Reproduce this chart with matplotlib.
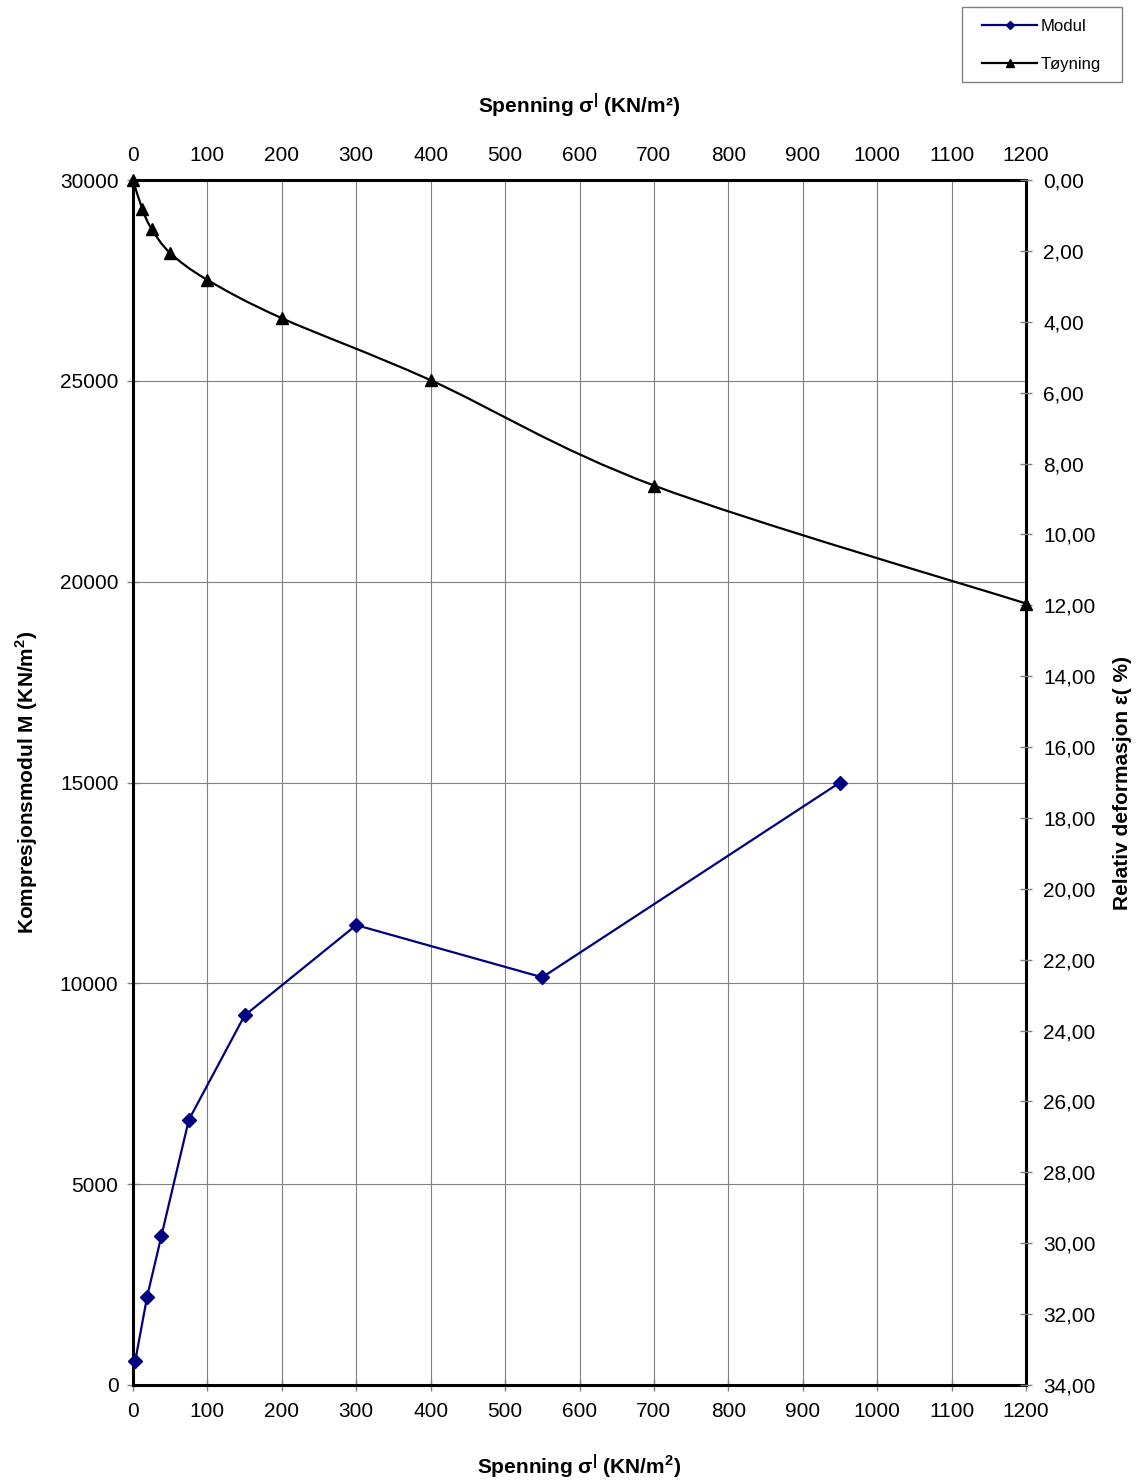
import matplotlib
matplotlib.use('Agg')
import matplotlib.pyplot as plt
from matplotlib.path import Path
from matplotlib.patches import PathPatch, Rectangle
from matplotlib.lines import Line2D
from matplotlib.ticker import FuncFormatter, MultipleLocator

plt.rcParams['font.family'] = ['Liberation Sans', 'DejaVu Sans']
plt.rcParams['mathtext.fontset'] = 'custom'
plt.rcParams['mathtext.rm'] = 'Liberation Sans'
plt.rcParams['mathtext.bf'] = 'Liberation Sans:bold'

# Modul: spenning (KN/m2) mot kompresjonsmodul M (KN/m2)
modul_spenning = [3, 19, 38, 75, 150, 300, 550, 950]
modul_M = [600, 2200, 3700, 6600, 9200, 11450, 10150, 15000]

# Tøyning: spenning (KN/m2) mot relativ deformasjon (%)
toyning_spenning = [0, 12.5, 25, 50, 100, 200, 400, 700, 1200]
toyning_eps = [0.0, 0.82, 1.38, 2.06, 2.82, 3.90, 5.65, 8.62, 11.95]

fig = plt.figure(figsize=(11.41, 14.81), dpi=100)
pos = [133 / 1141, 1 - 1385 / 1481, (1026 - 133) / 1141, (1385 - 180) / 1481]
ax = fig.add_axes(pos)
ax2 = fig.add_axes(pos, frameon=False)

grid_col = '#808080'
tick_fs = 15
prime = '$^{\\mathbf{|}}$'

# hovedakser (nederst / venstre)
ax.set_xlim(0, 1200)
ax.set_ylim(0, 30000)
ax.xaxis.set_major_locator(MultipleLocator(100))
ax.yaxis.set_major_locator(MultipleLocator(5000))
ax.grid(True, color=grid_col, linewidth=0.8)
ax.set_axisbelow(True)
for s in ax.spines.values():
    s.set_linewidth(2.2)
ax.tick_params(direction='inout', length=9, width=1, color=grid_col,
               labelsize=tick_fs, pad=6)
ax.tick_params(axis='x', pad=8)
ax.plot(modul_spenning, modul_M, color='#000080', lw=1.6, marker='D',
        markersize=7, zorder=3, clip_on=False)
ax.set_xlabel('Spenning σ' + prime + ' (KN/m$^{\\mathbf{2}}$)', fontsize=15,
              fontweight='bold')
ax.xaxis.set_label_coords(0.5, -0.056)
ax.set_ylabel('Kompresjonsmodul M (KN/m$^{\\mathbf{2}}$)', fontsize=15,
              fontweight='bold', labelpad=14)

# sekundærakser (øverst / høyre)
ax2.set_xlim(0, 1200)
ax2.set_ylim(34, 0)
ax2.xaxis.tick_top()
ax2.xaxis.set_label_position('top')
ax2.yaxis.tick_right()
ax2.yaxis.set_label_position('right')
ax2.xaxis.set_major_locator(MultipleLocator(100))
ax2.yaxis.set_major_locator(MultipleLocator(2))
ax2.yaxis.set_major_formatter(FuncFormatter(lambda v, p: f'{v:.2f}'.replace('.', ',')))
ax2.tick_params(axis='x', length=0, labelsize=tick_fs, pad=11)
ax2.tick_params(axis='y', direction='inout', length=9, width=1, color=grid_col,
                labelsize=tick_fs, pad=8)
ax2.set_xlabel('Spenning σ' + prime + ' (KN/m²)', fontsize=15, fontweight='bold')
ax2.xaxis.set_label_coords(0.5, 1.0564)
ax2.set_ylabel('Relativ deformasjon ε( %)', fontsize=15, fontweight='bold',
               labelpad=12)

# glatt kurve (Catmull-Rom som Bezier) gjennom tøyningspunktene
pts = list(zip(toyning_spenning, toyning_eps))
verts = [pts[0]]
codes = [Path.MOVETO]
for i in range(len(pts) - 1):
    p0 = pts[i - 1] if i > 0 else pts[i]
    p1 = pts[i]
    p2 = pts[i + 1]
    p3 = pts[i + 2] if i + 2 < len(pts) else pts[i + 1]
    c1 = (p1[0] + (p2[0] - p0[0]) / 6, p1[1] + (p2[1] - p0[1]) / 6)
    c2 = (p2[0] - (p3[0] - p1[0]) / 6, p2[1] - (p3[1] - p1[1]) / 6)
    verts += [c1, c2, p2]
    codes += [Path.CURVE4] * 3
ax2.add_patch(PathPatch(Path(verts, codes), facecolor='none', edgecolor='black',
                        lw=1.6, zorder=3, clip_on=False))
ax2.plot(toyning_spenning, toyning_eps, linestyle='none', marker='^',
         color='black', markersize=9, zorder=4, clip_on=False)

# forklaring med egen ramme
fig.patches.append(Rectangle((962 / 1141, 1 - 82 / 1481), 160 / 1141, 75 / 1481,
                             transform=fig.transFigure, facecolor='white',
                             edgecolor=grid_col, lw=1))
handles = [Line2D([], [], color='#000080', lw=1.6, marker='D', markersize=4),
           Line2D([], [], color='black', lw=1.6, marker='^', markersize=6)]
fig.legend(handles, ['Modul', 'Tøyning'], loc='upper left',
           bbox_to_anchor=(982 / 1141, 1 - 19 / 1481), fontsize=12,
           frameon=False, handlelength=3.3, labelspacing=1.35, borderpad=0,
           borderaxespad=0, handletextpad=0.2)

plt.savefig('out.png', dpi=100)
